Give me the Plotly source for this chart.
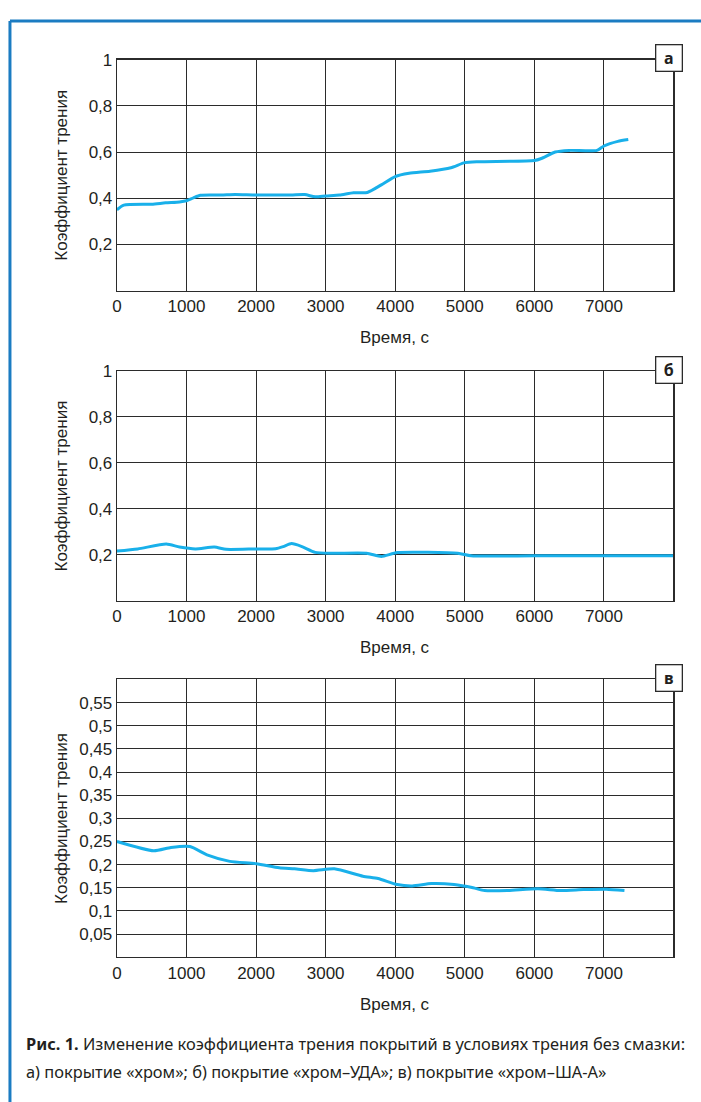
import plotly.graph_objects as go

# ---------------- data ----------------
t_a = [0, 100, 500, 700, 900, 1000, 1100, 1200, 1500, 1700, 2000, 2500, 2700, 2850, 3000, 3200,
       3400, 3600, 3800, 4000, 4200, 4500, 4800, 5000, 5200, 6000, 6100, 6300, 6500, 6900, 7000,
       7200, 7350]
mu_a = [0.35, 0.37, 0.374, 0.38, 0.384, 0.389, 0.402, 0.413, 0.414, 0.416, 0.414, 0.414, 0.416,
        0.406, 0.41, 0.414, 0.424, 0.425, 0.458, 0.494, 0.508, 0.517, 0.532, 0.554, 0.558, 0.563,
        0.572, 0.6, 0.607, 0.607, 0.626, 0.646, 0.654]

t_b = [0, 300, 710, 900, 1130, 1400, 1570, 2000, 2280, 2390, 2510, 2660, 2850, 3100, 3590, 3800,
       4030, 4900, 5090, 6000, 7000, 8000]
mu_b = [0.217, 0.226, 0.247, 0.234, 0.226, 0.234, 0.224, 0.226, 0.227, 0.236, 0.249, 0.236,
        0.211, 0.207, 0.207, 0.193, 0.21, 0.207, 0.196, 0.196, 0.196, 0.196]

t_c = [0, 530, 776, 1050, 1295, 1623, 2005, 2333, 2552, 2825, 3125, 3535, 3754, 4027, 4245, 4519,
       4846, 5120, 5284, 5612, 6049, 6377, 6705, 7033, 7295]
mu_c = [0.25, 0.23, 0.237, 0.239, 0.221, 0.207, 0.202, 0.193, 0.191, 0.187, 0.191, 0.175, 0.17,
        0.157, 0.154, 0.159, 0.157, 0.15, 0.144, 0.144, 0.148, 0.144, 0.146, 0.147, 0.144]

x_tickvals = [0, 1000, 2000, 3000, 4000, 5000, 6000, 7000]
x_ticktext = ["0", "1000", "2000", "3000", "4000", "5000", "6000", "7000"]
y_ab_tickvals = [0.2, 0.4, 0.6, 0.8, 1.0]
y_ab_ticktext = ["0,2", "0,4", "0,6", "0,8", "1"]
y_c_tickvals = [0.05, 0.1, 0.15, 0.2, 0.25, 0.3, 0.35, 0.4, 0.45, 0.5, 0.55]
y_c_ticktext = ["0,05", "0,1", "0,15", "0,2", "0,25", "0,3", "0,35", "0,4", "0,45", "0,5", "0,55"]
panel_labels = ["а", "б", "в"]
y_title = "Коэффициент трения"
x_title = "Время, с"
caption1 = "<b>Рис. 1.</b> Изменение коэффициента трения покрытий в условиях трения без смазки:"
caption2 = "а) покрытие «хром»; б) покрытие «хром–УДА»; в) покрытие «хром–ША-А»"

# ---------------- layout helpers ----------------
W, H = 701, 1102
def px(x):
    return x / W
def py(y):
    return 1 - y / H

X0, X1 = 112.7, 673.3
panels = [(51, 284), (365, 596.7), (676, 956)]
LINE_COLOR = "#19b0ea"
GRID = "#2b2b2b"
FONT = "Liberation Sans, Arial, sans-serif"
TXT = "#231f20"

fig = go.Figure()
series = [(t_a, mu_a), (t_b, mu_b), (t_c, mu_c)]
for i, (t, m) in enumerate(series):
    k = "" if i == 0 else str(i + 1)
    fig.add_trace(go.Scatter(x=t, y=m, mode="lines",
                             line=dict(color=LINE_COLOR, width=3, shape="spline", smoothing=0.6),
                             xaxis="x" + k, yaxis="y" + k, showlegend=False, hoverinfo="skip"))

axis_common = dict(showgrid=True, gridcolor=GRID, gridwidth=1, showline=True, linecolor=GRID,
                   linewidth=1.2, mirror=True, zeroline=False, ticks="",
                   tickfont=dict(family=FONT, size=17, color=TXT), fixedrange=True)

annotations = []
for i, (top, bot) in enumerate(panels):
    k = "" if i == 0 else str(i + 1)
    xa = dict(axis_common, domain=[px(X0), px(X1)], range=[0, 8000], tickmode="array",
              tickvals=x_tickvals + [8000], ticktext=x_ticktext + [""], anchor="y" + k)
    if i < 2:
        ya = dict(axis_common, domain=[py(bot), py(top)], range=[0, 1], tickmode="array",
                  tickvals=y_ab_tickvals, ticktext=y_ab_ticktext, anchor="x" + k)
    else:
        ya = dict(axis_common, domain=[py(bot), py(top)], range=[0, 0.6], tickmode="array",
                  tickvals=y_c_tickvals + [0.6], ticktext=y_c_ticktext + [""], anchor="x" + k)
    fig.update_layout({"xaxis" + k: xa, "yaxis" + k: ya})

    annotations.append(dict(x=px(57), y=py((top + bot) / 2), xref="paper", yref="paper",
                            xanchor="center", yanchor="middle",
                            text=y_title, textangle=-90, showarrow=False,
                            font=dict(family=FONT, size=17, color=TXT)))
    annotations.append(dict(x=px(393), y=py(bot + 47.5), xref="paper", yref="paper",
                            xanchor="center", yanchor="middle",
                            text=x_title, showarrow=False,
                            font=dict(family=FONT, size=17, color=TXT)))
    annotations.append(dict(x=px(669), y=py(top - 1.5), xref="paper", yref="paper",
                            xanchor="center", yanchor="middle",
                            text="<b>" + panel_labels[i] + "</b>", showarrow=False,
                            width=25, height=25, bgcolor="white", bordercolor=GRID, borderwidth=1.3,
                            borderpad=0, font=dict(family="Noto Sans, sans-serif", size=16, color=TXT)))

annotations.append(dict(x=px(19), y=py(1043), xref="paper", yref="paper",
                        xanchor="left", yanchor="middle",
                        text=caption1, showarrow=False,
                        font=dict(family="Noto Sans, sans-serif", size=16.4, color=TXT)))
annotations.append(dict(x=px(19), y=py(1071), xref="paper", yref="paper",
                        xanchor="left", yanchor="middle",
                        text=caption2, showarrow=False,
                        font=dict(family="Noto Sans, sans-serif", size=16.4, color=TXT)))

shapes = [
    dict(type="line", xref="paper", yref="paper", x0=px(5), x1=1.0, y0=py(12), y1=py(12),
         line=dict(color="#1b7cc2", width=3)),
    dict(type="line", xref="paper", yref="paper", x0=px(5), x1=px(5), y0=py(12), y1=0,
         line=dict(color="#1b7cc2", width=3)),
]

fig.update_layout(width=W, height=H, margin=dict(l=0, r=0, t=0, b=0),
                  paper_bgcolor="white", plot_bgcolor="white",
                  annotations=annotations, shapes=shapes)

fig.write_html(
    "out.html",
    config={"displayModeBar": False, "staticPlot": True},
    post_script=("document.documentElement.style.margin='0';"
                 "document.body.style.margin='0';document.body.style.padding='0';"
                 "document.body.style.overflow='hidden';"
                 "var d=document.getElementById('{plot_id}');"
                 "d.style.position='absolute';d.style.left='0px';d.style.top='0px';"),
)
